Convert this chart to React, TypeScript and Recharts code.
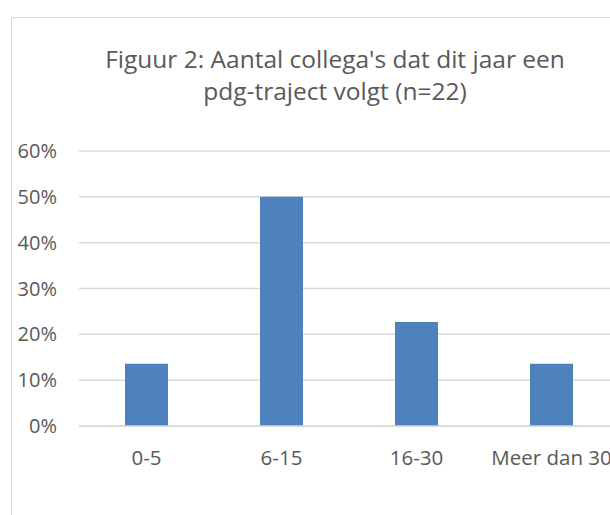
import React from "react";
import { BarChart, Bar, XAxis, YAxis, CartesianGrid } from "recharts";

const categories = ["0-5", "6-15", "16-30", "Meer dan 30"];
const percentages = [13.6, 50, 22.7, 13.6];
const yTicks = [0, 10, 20, 30, 40, 50, 60];
const titleLines = ["Figuur 2: Aantal collega's dat dit jaar een", "pdg-traject volgt (n=22)"];

const data = categories.map((c, i) => ({ name: c, value: percentages[i] }));

const FONT = "'Open Sans', sans-serif";
const TEXT = "#595959";
const GRID = "#D9D9D9";

export default function App() {
  return (
    <div style={{ position: "absolute", left: 0, top: 0, width: 610, height: 515, overflow: "hidden", background: "#fff", fontFamily: FONT }}>
      <div style={{ position: "absolute", left: 11, top: 17, width: 700, height: 600, border: `1px solid ${GRID}`, boxSizing: "border-box" }} />
      {titleLines.map((t, i) => (
        <div key={i} style={{ position: "absolute", left: 0, width: 670, top: 43 + i * 32, textAlign: "center", fontSize: 24.5, lineHeight: "32px", color: TEXT, whiteSpace: "nowrap" }}>
          {t}
        </div>
      ))}
      <div style={{ position: "absolute", left: 0, top: 0 }}>
        <BarChart width={640} height={515} data={data} margin={{ top: 151, right: 21, left: 0, bottom: 29 }}>
          <CartesianGrid horizontal={true} vertical={false} stroke={GRID} strokeWidth={1.5} />
          <XAxis dataKey="name" axisLine={{ stroke: GRID, strokeWidth: 1.5 }} tickLine={false} height={60} tickMargin={18} tick={{ fill: TEXT, fontSize: 20.5, fontFamily: FONT }} interval={0} />
          <YAxis domain={[0, 60]} ticks={yTicks} tickFormatter={(v: number) => `${v}%`} axisLine={false} tickLine={false} width={79} tickMargin={16} tick={{ fill: TEXT, fontSize: 20, fontFamily: FONT }} />
          <Bar dataKey="value" fill="#4F81BD" barSize={43} isAnimationActive={false} />
        </BarChart>
      </div>
    </div>
  );
}
